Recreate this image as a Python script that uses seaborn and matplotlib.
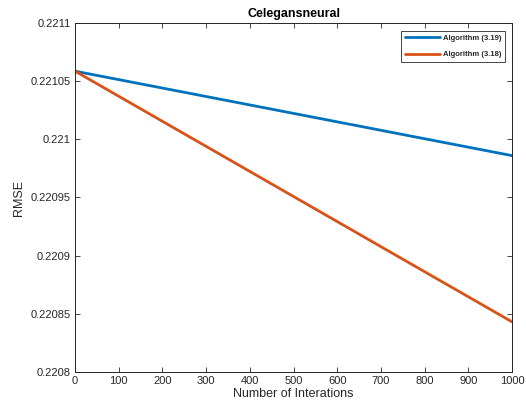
import matplotlib
matplotlib.use("Agg")
import matplotlib.pyplot as plt
import seaborn as sns
import pandas as pd

# Data
iterations = [0, 1000]
rmse_319 = [0.2210586, 0.2209860]
rmse_318 = [0.2210586, 0.2208431]
series_names = ["Algorithm (3.19)", "Algorithm (3.18)"]
x_ticks = [0, 100, 200, 300, 400, 500, 600, 700, 800, 900, 1000]
y_ticks = [0.2208, 0.22085, 0.2209, 0.22095, 0.221, 0.22105, 0.2211]
y_tick_labels = ["0.2208", "0.22085", "0.2209", "0.22095", "0.221", "0.22105", "0.2211"]
title = "Celegansneural"
x_label = "Number of Interations"
y_label = "RMSE"

df = pd.DataFrame({
    "iter": iterations * 2,
    "rmse": rmse_319 + rmse_318,
    "alg": [series_names[0]] * len(iterations) + [series_names[1]] * len(iterations),
})

sns.set_theme(style="white")
plt.rcParams["font.family"] = ["Liberation Sans", "DejaVu Sans"]
dark = "#262626"

fig = plt.figure(figsize=(5.26, 4.03), dpi=100)
ax = fig.add_axes([75 / 526, 1 - 372 / 403, (512 - 75) / 526, (372 - 23) / 403])

sns.lineplot(data=df, x="iter", y="rmse", hue="alg", hue_order=series_names,
             palette=["#0072BD", "#D95319"], linewidth=2.0, ax=ax)

ax.set_xlim(0, 1000)
ax.set_ylim(0.2208, 0.2211)
ax.set_xticks(x_ticks)
ax.set_xticklabels([str(v) for v in x_ticks])
ax.set_yticks(y_ticks)
ax.set_yticklabels(y_tick_labels)

ax.tick_params(direction="in", length=3.5, width=0.6, colors=dark, labelsize=8,
               top=True, right=True, bottom=True, left=True, pad=3)
for sp in ax.spines.values():
    sp.set_color(dark)
    sp.set_linewidth(0.7)
    sp.set_visible(True)

ax.set_title(title, fontsize=9, fontweight="bold", color="black", pad=4)
ax.set_xlabel(x_label, fontsize=9, color=dark, labelpad=1)
ax.set_ylabel(y_label, fontsize=9, color=dark, labelpad=4)

leg = ax.legend(loc="upper right", bbox_to_anchor=((505 - 75) / 437, (372 - 31) / 349),
                borderaxespad=0, fancybox=False, frameon=True, handlelength=4.5,
                handletextpad=0.4, borderpad=0.5, labelspacing=1.15,
                prop={"size": 5.5, "weight": "bold"})
leg.get_frame().set_edgecolor(dark)
leg.get_frame().set_linewidth(0.6)
leg.get_frame().set_alpha(1)
for line in leg.get_lines():
    line.set_linewidth(2.0)

fig.savefig("out.png", dpi=100)
